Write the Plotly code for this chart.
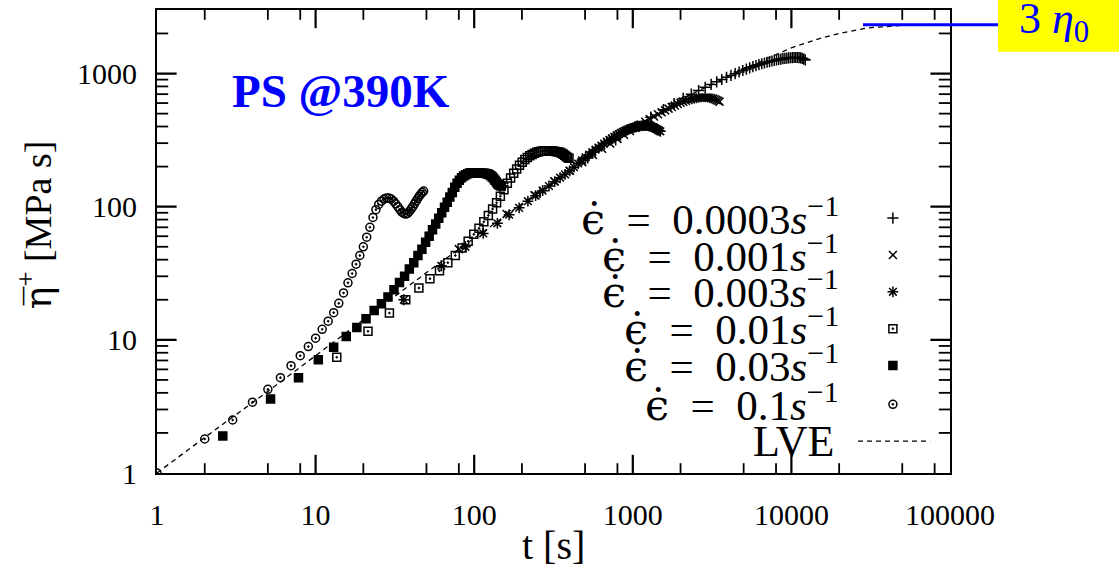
import math
import plotly.graph_objects as go

# ---------------- data ----------------
# linear viscoelastic envelope
t_lve = [1, 2, 5, 10, 20, 50, 100, 200, 500, 1000, 2000, 5000, 10000, 15000, 20000, 30000, 50000, 100000]
eta_lve = [1.0, 1.85, 4.1, 7.6, 14.2, 32, 58, 105, 225, 390, 640, 1080, 1560, 1830, 2000, 2200, 2300, 2330]

# strain rate 0.1 1/s
t_r01 = [1, 2, 3, 4, 5, 6, 7, 8, 9, 10, 11, 12, 13, 14, 15, 16, 17, 18, 19, 20, 21, 22, 23, 24,
         25, 26, 27, 28, 29, 30, 31, 32, 33, 34, 35, 36, 37, 38, 39, 40, 41, 42, 43, 44, 45, 46, 47, 48]
eta_r01 = [1.0, 1.8, 2.5, 3.4, 4.25, 5.2, 6.4, 7.6, 8.9, 10.3, 12.0, 13.8, 16.0, 18.8, 22.5, 26.8,
           31.5, 37, 43, 50, 59, 70, 83, 95, 104, 110, 114, 116, 116, 114, 110, 105, 100, 95, 91,
           89, 88, 89, 92, 96, 100, 105, 110, 115, 120, 124, 128, 131]

# strain rate 0.03 1/s
t_r003 = [2.6, 5.2, 7.8, 10.4, 13.0, 15.6, 18.2, 20.8, 23.4, 26.0, 28.6, 31.2, 33.8, 36.4, 39.0,
          41.6, 44.2, 46.8, 49.4, 52.0, 54.6, 57.2, 59.8, 62.4, 65.0, 67.6, 70.2, 72.8, 75.4, 78.0,
          80.6, 83.2, 85.8, 88.4, 91.0, 93.6, 96.2, 98.8, 101.4, 104.0, 106.6, 109.2, 111.8, 114.4,
          117.0, 119.6, 122.2, 124.8, 127.4, 130.0, 132.6, 135.2, 137.8, 140.4, 143.0, 145.6, 148.2]
eta_r003 = [1.9, 3.6, 5.2, 7.1, 8.8, 10.6, 12.4, 14.4, 16.6, 18.7, 21.0, 23.8, 27, 30, 34, 38, 43,
            48, 54, 60, 67, 74, 82, 90, 99, 108, 118, 128, 140, 150, 158, 165, 170, 174, 177, 179,
            180, 180, 180, 180, 179, 179, 178, 178, 178, 177, 176, 174, 171, 167, 163, 158, 153,
            149, 146, 144, 143]

# strain rate 0.01 1/s
t_r001 = [13.6, 21.4, 29.2, 37.0, 44.8, 52.6, 60.4, 68.2, 76.0, 83.8, 91.6, 99.4, 107.2, 115.0,
          122.8, 130.6, 138.4, 146.2, 154.0, 161.8, 169.6, 177.4, 185.2, 193.0, 200.8, 208.6,
          216.4, 224.2, 232.0, 239.8, 247.6, 255.4, 263.2, 271.0, 278.8, 286.6, 294.4, 302.2,
          310.0, 317.8, 325.6, 333.4, 341.2, 349.0, 356.8, 364.6, 372.4, 380.2, 388.0, 395.8]
eta_r001 = [7.4, 11.6, 15.9, 20, 24.5, 28.8, 33, 38, 43, 49, 55, 62, 69, 77, 86, 96, 107, 120, 134,
            150, 164, 178, 192, 205, 216, 226, 234, 241, 247, 252, 256, 259, 261, 262, 263, 263,
            263, 262, 262, 261, 260, 259, 257, 255, 252, 248, 243, 238, 234, 231]

# strain rate 0.003 1/s
t_r0003 = [36, 62, 88, 114, 140, 166, 192, 218, 244, 270, 296, 322, 348, 374, 400, 426, 452, 478,
           504, 530, 556, 582, 608, 634, 660, 686, 712, 738, 764, 790, 816, 842, 868, 894, 920,
           946, 972, 998, 1024, 1050, 1076, 1102, 1128, 1154, 1180, 1206, 1232, 1258, 1284, 1310,
           1336, 1362, 1388, 1414, 1440, 1466, 1492]
eta_r0003 = [20, 36, 50, 63, 75, 87, 98, 110, 121, 132, 143, 154, 165, 175, 186, 198, 211, 223,
             235, 246, 257, 268, 278, 288, 298, 308, 317, 326, 335, 343, 351, 358, 365, 371, 377,
             382, 387, 391, 395, 398, 401, 403, 405, 406, 407, 407, 406, 405, 403, 400, 396, 392,
             387, 382, 377, 372, 368]

# strain rate 0.001 1/s
t_r0001 = [80, 160, 240, 320, 400, 480, 560, 640, 720, 800, 880, 960, 1040, 1120, 1200, 1280,
           1360, 1440, 1520, 1600, 1680, 1760, 1840, 1920, 2000, 2080, 2160, 2240, 2320, 2400,
           2480, 2560, 2640, 2720, 2800, 2880, 2960, 3040, 3120, 3200, 3280, 3360, 3440, 3520]
eta_r0001 = [48, 88, 122, 155, 186, 216, 245, 272, 298, 323, 347, 370, 392, 414, 435, 455, 475,
             494, 512, 529, 545, 561, 576, 590, 603, 614, 624, 632, 639, 645, 650, 654, 657, 659,
             660, 660, 659, 657, 653, 648, 641, 633, 624, 615]

# strain rate 0.0003 1/s
t_r00003 = [260, 520, 780, 1040, 1300, 1560, 1820, 2080, 2340, 2600, 2860, 3120, 3380, 3640, 3900,
            4160, 4420, 4680, 4940, 5200, 5460, 5720, 5980, 6240, 6500, 6760, 7020, 7280, 7540,
            7800, 8060, 8320, 8580, 8840, 9100, 9360, 9620, 9880, 10140, 10400, 10660, 10920,
            11180, 11440, 11700, 11960, 12220]
eta_r00003 = [128, 232, 318, 400, 470, 535, 595, 650, 700, 745, 788, 828, 866, 902, 936, 968, 998,
              1027, 1054, 1080, 1104, 1126, 1147, 1166, 1184, 1200, 1215, 1229, 1242, 1254, 1265,
              1275, 1284, 1292, 1299, 1305, 1310, 1314, 1317, 1319, 1320, 1319, 1316, 1310, 1300,
              1285, 1265]

rate_labels = ["0.0003", "0.001", "0.003", "0.01", "0.03", "0.1"]
three_eta0 = 2320.0          # 3 x zero-shear viscosity [MPa s]
y_top = 3000.0
x_ticks = [1, 10, 100, 1000, 10000, 100000]
y_ticks = [1, 10, 100, 1000]
x_minor_steps = [2, 5, 8]
y_minor_steps = [2, 3, 4, 5, 6, 7, 8, 9]

# ---------------- styling ----------------
SERIF = "Liberation Serif, Times New Roman, serif"
MARKS = "DejaVu Serif"          # font with proper combining-mark placement
BLACK = "black"
EN = "\u2002"

series = [
    (t_r00003, eta_r00003, "cross-thin-open", 8),
    (t_r0001, eta_r0001, "x-thin-open", 8),
    (t_r0003, eta_r0003, "asterisk-open", 9),
    (t_r001, eta_r001, "square-open-dot", 8),
    (t_r003, eta_r003, "square", 8),
    (t_r01, eta_r01, "circle-open-dot", 8),
]

fig = go.Figure()

# ---- inward tick marks on all four sides (gnuplot-style frame) ----
# Each tick is a line symbol centred on the frame; clipping to the plot area
# leaves only the inner half visible.
x_lo, x_hi = x_ticks[0], x_ticks[-1]
y_lo, y_hi = y_ticks[0], y_top
x_minor = [v * m for v in x_ticks[:-1] for m in x_minor_steps]
y_minor = [v * m for v in y_ticks for m in y_minor_steps if v * m < y_top]


def tick_trace(xs, ys, symbol, half_len, width):
    fig.add_trace(go.Scatter(
        x=xs, y=ys, mode="markers", cliponaxis=True,
        marker=dict(symbol=symbol, size=2 * half_len, color=BLACK,
                    line=dict(color=BLACK, width=width)),
        showlegend=False, hoverinfo="skip"))


x_major_in = x_ticks[1:-1]
tick_trace(x_major_in * 2, [y_lo] * len(x_major_in) + [y_hi] * len(x_major_in), "line-ns", 13, 2.2)
tick_trace(x_minor * 2, [y_lo] * len(x_minor) + [y_hi] * len(x_minor), "line-ns", 7, 1.8)
y_major_in = y_ticks[1:]
tick_trace([x_lo] * len(y_major_in) + [x_hi] * len(y_major_in), y_major_in * 2, "line-ew", 14, 2.2)
tick_trace([x_lo] * len(y_minor) + [x_hi] * len(y_minor), y_minor * 2, "line-ew", 8, 1.8)

fig.add_trace(go.Scatter(
    x=t_lve, y=eta_lve, mode="lines",
    line=dict(color=BLACK, width=1.3, dash="5px,4px"),
    showlegend=False, hoverinfo="skip"))

for tx, ey, sym, sz in series:
    fig.add_trace(go.Scatter(
        x=tx, y=ey, mode="markers",
        marker=dict(symbol=sym, size=sz, color=BLACK,
                    line=dict(color=BLACK, width=1.5)),
        showlegend=False))

# ---- key (gnuplot style: right-aligned text, sample at the right) ----
key_x_text = 0.8626
key_x_mark = 0.928
key_rows = [0.5505, 0.471, 0.3914, 0.3118, 0.2323, 0.1484]
for (tx, ey, sym, sz), yr, lab in zip(series, key_rows, rate_labels):
    fig.add_trace(go.Scatter(
        x=[key_x_mark], y=[yr], xaxis="x2", yaxis="y2", mode="markers",
        marker=dict(symbol=sym, size=sz, color=BLACK, line=dict(color=BLACK, width=1.5)),
        showlegend=False, hoverinfo="skip"))
    fig.add_annotation(
        x=key_x_text, y=yr + 0.004, xref="paper", yref="paper",
        xanchor="right", yanchor="middle", showarrow=False,
        text=(f"<span style='font-family:{MARKS}'>ϵ̇</span>"
              f"{EN}={EN}{lab}<i>s</i><sup>−1</sup>"),
        font=dict(family=SERIF, size=43, color=BLACK))

lve_key_y = 0.0688
fig.add_trace(go.Scatter(
    x=[0.884, 0.975], y=[lve_key_y, lve_key_y], xaxis="x2", yaxis="y2", mode="lines",
    line=dict(color=BLACK, width=1.3, dash="5px,4px"),
    showlegend=False, hoverinfo="skip"))
fig.add_annotation(
    x=key_x_text - 0.005, y=lve_key_y, xref="paper", yref="paper",
    xanchor="right", yanchor="middle", showarrow=False,
    text="LVE", font=dict(family=SERIF, size=44, color=BLACK))

# ---- axis titles ----
fig.add_annotation(
    x=0.4994, y=-0.157, xref="paper", yref="paper", showarrow=False,
    xanchor="center", yanchor="middle",
    text="t [s]", font=dict(family=SERIF, size=40, color=BLACK))
fig.add_annotation(
    x=-0.1538, y=0.535, xref="paper", yref="paper", showarrow=False,
    xanchor="center", yanchor="middle", textangle=-90,
    text=f"<span style='font-family:{MARKS}'>η̅</span><sup>+</sup> [MPa s]",
    font=dict(family=SERIF, size=38, color=BLACK))

# ---- material / temperature tag ----
fig.add_annotation(
    x=0.092, y=0.826, xref="paper", yref="paper", showarrow=False,
    xanchor="left", yanchor="middle",
    text="<b>PS @390K</b>", font=dict(family=SERIF, size=47, color="#0000FF"))

# ---- 3 eta0 marker line and boxed label ----
y_line = math.log10(three_eta0) / math.log10(y_top)
fig.add_shape(type="rect", xref="paper", yref="paper",
              x0=1.0605, x1=1.30, y0=0.9097, y1=1.10,
              fillcolor="#FFFF00", line=dict(width=0), layer="above")
fig.add_shape(type="line", xref="paper", yref="paper",
              x0=0.8903, x1=1.0605, y0=y_line, y1=y_line,
              line=dict(color="#0000FF", width=3), layer="above")
fig.add_annotation(
    x=1.085, y=0.976, xref="paper", yref="paper", showarrow=False,
    xanchor="left", yanchor="middle",
    text="3 <i>η</i><sub>0</sub>", font=dict(family=SERIF, size=44, color="#0000FF"))

# ---- axes ----
frame = dict(type="log", showgrid=False, zeroline=False,
             showline=True, linecolor=BLACK, linewidth=2.2, mirror=True,
             ticks="", tickmode="array")

fig.update_layout(
    width=1119, height=567,
    margin=dict(l=157, r=169, t=8, b=94),
    paper_bgcolor="white", plot_bgcolor="white",
    showlegend=False,
    xaxis=dict(**frame, range=[math.log10(x_lo), math.log10(x_hi)],
               tickvals=x_ticks, ticktext=[str(v) for v in x_ticks],
               tickfont=dict(family=SERIF, size=30, color=BLACK), ticklabelstandoff=14),
    yaxis=dict(**frame, range=[math.log10(y_lo), math.log10(y_hi)],
               tickvals=y_ticks, ticktext=[str(v) for v in y_ticks],
               tickfont=dict(family=SERIF, size=30, color=BLACK), ticklabelstandoff=12),
    xaxis2=dict(overlaying="x", range=[0, 1], visible=False, fixedrange=True),
    yaxis2=dict(overlaying="y", range=[0, 1], visible=False, fixedrange=True),
)

fig.write_html("out.html")
